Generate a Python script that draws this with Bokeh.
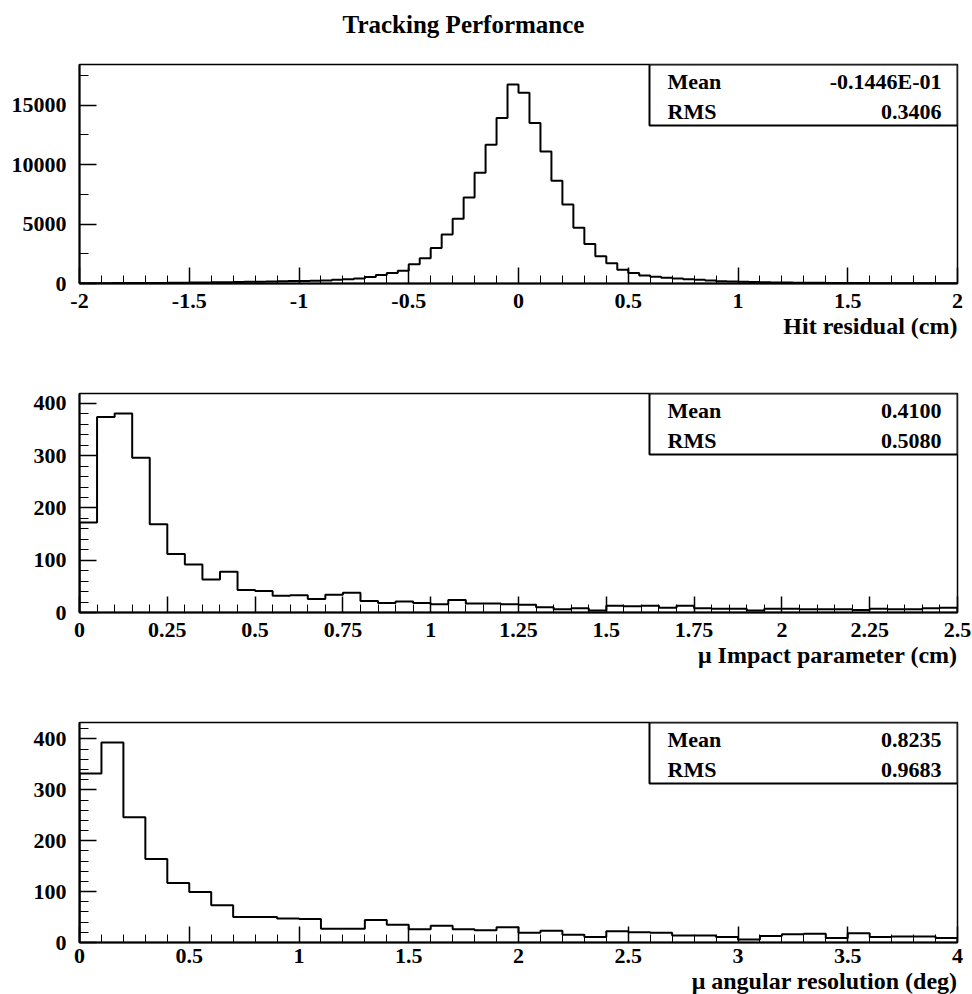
import numpy as np
from bokeh.plotting import figure
from bokeh.layouts import column
from bokeh.models import Range1d, FixedTicker, Label, BoxAnnotation, Title
from bokeh.embed import file_html
from bokeh.resources import INLINE

# ---------------- data ----------------
page_title = "Tracking Performance"

# Panel 1: hit residual, 80 bins from -2 to 2
hit_range = (-2.0, 2.0)
hit_counts = [25, 28, 30, 34, 38, 42, 47, 52, 58, 66, 74, 84, 95, 108, 122, 138,
              152, 168, 185, 200, 218, 236,
              254, 311, 367, 424, 537, 706, 876, 1073, 1610, 2119, 2994, 4124,
              5452, 7232, 9322, 11667, 13927, 16752,
              16046, 13504, 11102, 8645, 6639, 4690, 3334, 2288, 1695, 1158, 876, 678,
              565, 480, 424, 367, 311, 254, 198, 170, 141, 118, 102, 90, 80, 71,
              62, 55, 49, 44, 39, 35, 31, 27, 24, 21, 19, 17, 15, 13]
hit_xticks = [-2, -1.5, -1, -0.5, 0, 0.5, 1, 1.5, 2]
hit_xlabels = ["-2", "-1.5", "-1", "-0.5", "0", "0.5", "1", "1.5", "2"]
hit_yticks = [0, 5000, 10000, 15000]
hit_ylabels = ["0", "5000", "10000", "15000"]
hit_title = "Hit residual (cm)"
hit_stats = ["-0.1446E-01", "0.3406"]

# Panel 2: muon impact parameter, 50 bins from 0 to 2.5
ip_range = (0.0, 2.5)
ip_counts = [172, 374, 381, 296, 169, 112, 92, 63, 78, 43,
             41, 32, 33, 26, 34, 38, 22, 18, 21, 18,
             16, 24, 17, 17, 16, 15, 10, 6, 8, 4,
             13, 12, 13, 9, 13, 8, 7, 7, 4, 7,
             7, 6, 6, 6, 5, 7, 6, 6, 8, 9]
ip_xticks = [0, 0.25, 0.5, 0.75, 1, 1.25, 1.5, 1.75, 2, 2.25, 2.5]
ip_xlabels = ["0", "0.25", "0.5", "0.75", "1", "1.25", "1.5", "1.75", "2", "2.25", "2.5"]
ip_yticks = [0, 100, 200, 300, 400]
ip_ylabels = ["0", "100", "200", "300", "400"]
ip_title = "\u03bc Impact parameter (cm)"
ip_stats = ["0.4100", "0.5080"]

# Panel 3: muon angular resolution, 40 bins from 0 to 4
ang_range = (0.0, 4.0)
ang_counts = [332, 393, 246, 164, 117, 99, 73, 50, 50, 47,
              46, 27, 27, 44, 35, 26, 33, 26, 24, 30,
              19, 23, 15, 11, 22, 20, 19, 14, 14, 11,
              6, 13, 16, 17, 9, 18, 11, 12, 12, 9]
ang_xticks = [0, 0.5, 1, 1.5, 2, 2.5, 3, 3.5, 4]
ang_xlabels = ["0", "0.5", "1", "1.5", "2", "2.5", "3", "3.5", "4"]
ang_yticks = [0, 100, 200, 300, 400]
ang_ylabels = ["0", "100", "200", "300", "400"]
ang_title = "\u03bc angular resolution (deg)"
ang_stats = ["0.8235", "0.9683"]

stat_names = ["Mean", "RMS"]

# ---------------- style ----------------
FONT = "Liberation Serif"
W = 972
LEFT = 79
FW = 878
RIGHT = W - LEFT - FW


def header(text, h=48):
    # pixel-like ranges so that the title can be centred where the reference has it
    p = figure(frame_width=FW, frame_height=h,
               min_border_left=LEFT, min_border_right=RIGHT,
               min_border_top=0, min_border_bottom=0,
               x_range=Range1d(LEFT, LEFT + FW), y_range=Range1d(0, h),
               x_axis_location=None, y_axis_location=None,
               output_backend="svg", toolbar_location=None, tools="")
    p.grid.grid_line_color = None
    p.outline_line_color = None
    p.add_layout(Label(x=463, y=h - 23.5, text=text, text_font=FONT,
                       text_font_style="bold", text_font_size="25px",
                       text_color="black", text_align="center",
                       text_baseline="middle"))
    return p


def panel(rng, counts, xticks, xlabels, xminor, yticks, ylabels, yminor,
          xtitle, stats, fh, top_b, bottom_b, xstand):
    lo, hi = rng
    ymax = 1.1 * max(counts)
    p = figure(frame_width=FW, frame_height=fh,
               min_border_left=LEFT, min_border_right=RIGHT,
               min_border_top=top_b, min_border_bottom=bottom_b,
               x_range=Range1d(lo, hi), y_range=Range1d(0, ymax),
               output_backend="svg", toolbar_location=None, tools="")
    p.xgrid.grid_line_color = None
    p.ygrid.grid_line_color = None
    p.outline_line_color = "black"
    p.outline_line_width = 1.5
    p.background_fill_color = "white"
    p.border_fill_color = "white"

    # histogram as a stair line
    edges = np.linspace(lo, hi, len(counts) + 1)
    c = np.asarray(counts, dtype=float)
    xs = np.concatenate([[edges[0]], np.repeat(edges, 2)[1:-1], [edges[-1]]])
    ys = np.concatenate([[0.0], np.repeat(c, 2), [0.0]])
    p.line(xs, ys, line_color="black", line_width=2)

    # axes
    p.xaxis.ticker = FixedTicker(ticks=xticks,
                                 minor_ticks=list(np.arange(lo, hi + 1e-9, xminor)))
    p.xaxis.major_label_overrides = {float(t): s for t, s in zip(xticks, xlabels)}
    p.yaxis.ticker = FixedTicker(ticks=yticks,
                                 minor_ticks=list(np.arange(0, ymax, yminor)))
    p.yaxis.major_label_overrides = {float(t): s for t, s in zip(yticks, ylabels)}
    for ax in (p.xaxis[0], p.yaxis[0]):
        ax.axis_line_width = 2
        ax.axis_line_color = "black"
        ax.major_tick_out = 0
        ax.minor_tick_out = 0
        ax.major_tick_line_color = "black"
        ax.minor_tick_line_color = "black"
        ax.major_tick_line_width = 1.5
        ax.minor_tick_line_width = 1
        ax.major_label_text_font = FONT
        ax.major_label_text_font_style = "bold"
        ax.major_label_text_font_size = "22px"
        ax.major_label_text_color = "black"
    p.xaxis.major_tick_in = 16
    p.xaxis.minor_tick_in = 8
    p.yaxis.major_tick_in = 17
    p.yaxis.minor_tick_in = 9
    p.xaxis.major_label_standoff = xstand
    p.yaxis.major_label_standoff = 13

    def dx(px):
        return lo + px / FW * (hi - lo)

    def dy(py):
        return py / fh * ymax

    # stats box
    p.add_layout(BoxAnnotation(left=dx(570), right=hi, bottom=dy(fh - 61), top=ymax,
                               fill_color="white", fill_alpha=1.0,
                               line_color="black", line_alpha=1.0, line_width=2,
                               level="overlay"))
    for i, (nm, val) in enumerate(zip(stat_names, stats)):
        yy = dy(fh - 17 - 30 * i)
        p.add_layout(Label(x=dx(588), y=yy, text=nm, text_font=FONT,
                           text_font_style="bold", text_font_size="22px",
                           text_color="black",
                           text_align="left", text_baseline="middle", level="overlay"))
        p.add_layout(Label(x=dx(862), y=yy, text=val, text_font=FONT,
                           text_font_style="bold", text_font_size="22px",
                           text_color="black",
                           text_align="right", text_baseline="middle", level="overlay"))

    # axis title (right aligned below the axis)
    p.add_layout(Title(text=xtitle, align="right", standoff=0, offset=0,
                       text_font=FONT, text_font_style="bold",
                       text_font_size="24px", text_color="black"), "below")
    return p


h0 = header(page_title, 48)
p1 = panel(hit_range, hit_counts, hit_xticks, hit_xlabels, 0.1,
           hit_yticks, hit_ylabels, 2500, hit_title, hit_stats,
           219, 16, 60, 10)
p2 = panel(ip_range, ip_counts, ip_xticks, ip_xlabels, 0.05,
           ip_yticks, ip_ylabels, 20, ip_title, ip_stats,
           219, 50, 60, 10)
p3 = panel(ang_range, ang_counts, ang_xticks, ang_xlabels, 0.1,
           ang_yticks, ang_ylabels, 20, ang_title, ang_stats,
           220, 50, 52, 6)

layout = column(h0, p1, p2, p3, spacing=0)
open("out.html", "w").write(file_html(layout, INLINE))
